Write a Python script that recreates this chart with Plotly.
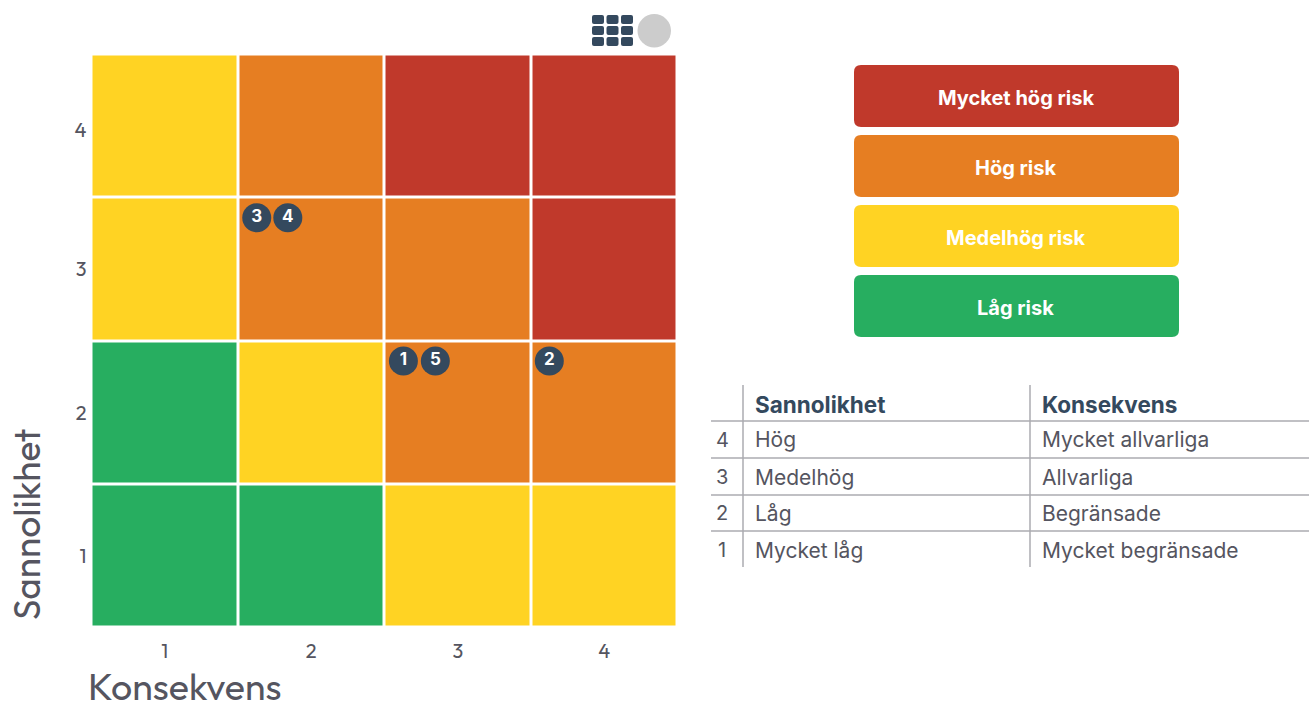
import plotly.graph_objects as go

W, H = 1309, 701

# --- data ---
consequence = [1, 2, 3, 4]
likelihood = [1, 2, 3, 4]
# the reference draws its top y label slightly below the middle of the row
likelihood_tick_positions = [1, 2, 3, 3.97]
# risk level per cell: 0 low, 1 medium-high, 2 high, 3 very high (rows: likelihood 1..4)
risk_row_1 = [0, 0, 1, 1]
risk_row_2 = [0, 1, 2, 2]
risk_row_3 = [1, 2, 2, 3]
risk_row_4 = [1, 2, 3, 3]
risk_colors = ["#27AE60", "#FFD323", "#E67E22", "#C0392B"]

point_labels = ["3", "4", "1", "5", "2"]
point_x = [1.628, 1.84, 2.629, 2.847, 3.625]
point_y = [3.36, 3.36, 2.36, 2.36, 2.36]

legend_labels = ["Mycket hög risk", "Hög risk", "Medelhög risk", "Låg risk"]
legend_colors = ["#C0392B", "#E67E22", "#FFD323", "#27AE60"]

table_header = ["Sannolikhet", "Konsekvens"]
table_levels = ["4", "3", "2", "1"]
table_likelihood = ["Hög", "Medelhög", "Låg", "Mycket låg"]
table_consequence = ["Mycket allvarliga", "Allvarliga", "Begränsade", "Mycket begränsade"]

AXIS_FONT = "Outfit, Lato, sans-serif"
TEXT_FONT = "Inter, sans-serif"
DARK = "#34495E"
TEXT = "#555560"


def px(x):
    return x / W


def py(y):
    return 1 - y / H


shapes = []
annotations = []


def rounded(x0, y0, x1, y1, r, color):
    c = [(x0 + r, y0), (x1 - r, y0), (x1, y0), (x1, y0 + r), (x1, y1 - r), (x1, y1),
         (x1 - r, y1), (x0 + r, y1), (x0, y1), (x0, y1 - r), (x0, y0 + r), (x0, y0)]
    p = [(px(a), py(b)) for a, b in c]
    path = (f"M{p[0][0]},{p[0][1]} L{p[1][0]},{p[1][1]} Q{p[2][0]},{p[2][1]} {p[3][0]},{p[3][1]} "
            f"L{p[4][0]},{p[4][1]} Q{p[5][0]},{p[5][1]} {p[6][0]},{p[6][1]} "
            f"L{p[7][0]},{p[7][1]} Q{p[8][0]},{p[8][1]} {p[9][0]},{p[9][1]} "
            f"L{p[10][0]},{p[10][1]} Q{p[11][0]},{p[11][1]} {p[0][0]},{p[0][1]} Z")
    shapes.append(dict(type="path", xref="paper", yref="paper", path=path, fillcolor=color,
                       line=dict(width=0)))


def label(x, y, text, size, color, font=TEXT_FONT, anchor="left", **kw):
    annotations.append(dict(xref="paper", yref="paper", x=px(x), y=py(y), text=text, showarrow=False,
                            xanchor=anchor, yanchor="middle", font=dict(size=size, color=color, family=font),
                            **kw))


fig = go.Figure()
n = len(risk_colors) - 1
colorscale = []
for i, c in enumerate(risk_colors):
    colorscale += [[max(0, (i - .5) / n), c], [min(1, (i + .5) / n), c]]
fig.add_trace(go.Heatmap(x=consequence, y=likelihood,
                         z=[risk_row_1, risk_row_2, risk_row_3, risk_row_4],
                         colorscale=colorscale, zmin=0, zmax=n, showscale=False,
                         xgap=3, ygap=3, hoverinfo="skip"))
fig.add_trace(go.Scatter(x=point_x, y=point_y, mode="markers+text", text=[f"<b>{t}</b>" for t in point_labels],
                         textposition="middle center",
                         textfont=dict(color="white", size=17, family=TEXT_FONT),
                         marker=dict(size=29, color=DARK, line=dict(width=0)),
                         hoverinfo="skip", cliponaxis=False, showlegend=False))

# legend buttons
for i, (t, c) in enumerate(zip(legend_labels, legend_colors)):
    y0 = 65 + 70 * i
    rounded(854, y0, 1179, y0 + 62, 7, c)
    label(1015.5, y0 + 33, f"<b>{t}</b>", 20, "white", anchor="center")

# table
for y in [421, 458, 495, 531]:
    shapes.append(dict(type="line", xref="paper", yref="paper", x0=px(711), x1=px(1309), y0=py(y), y1=py(y),
                       line=dict(color="#ABABB0", width=1.5)))
for x in [743, 1030]:
    shapes.append(dict(type="line", xref="paper", yref="paper", x0=px(x), x1=px(x), y0=py(385), y1=py(567),
                       line=dict(color="#ABABB0", width=1.5)))
label(753, 404, f"<b>{table_header[0]}</b>", 22.5, DARK)
label(1040, 404, f"<b>{table_header[1]}</b>", 22.5, DARK)
for i, yy in enumerate([440, 477, 513, 550]):
    label(722, yy, table_levels[i], 20, TEXT, anchor="center")
    label(753, yy, table_likelihood[i], 21, TEXT)
    label(1040, yy, table_consequence[i], 21, TEXT)

# toolbar icon
for r in range(3):
    for c in range(3):
        rounded(592 + 14.5 * c, 15 + 11 * r, 604 + 14.5 * c, 24 + 11 * r, 2, DARK)
shapes.append(dict(type="circle", xref="paper", yref="paper", x0=px(637.5), x1=px(671), y0=py(47.5), y1=py(14),
                   fillcolor="#CCCCCC", line=dict(width=0)))

# axis titles
label(86, 686, "Konsekvens", 37.5, TEXT, font=AXIS_FONT)
label(26, 525, "Sannolikhet", 37, TEXT, font=AXIS_FONT, anchor="center", textangle=-90)

fig.update_layout(
    width=W, height=H, margin=dict(l=0, r=0, t=0, b=0), paper_bgcolor="white", plot_bgcolor="white",
    shapes=shapes, annotations=annotations, showlegend=False,
    xaxis=dict(domain=[px(91.5), px(677.5)], range=[0.5, 4.5], tickvals=consequence, showgrid=False, zeroline=False,
               showline=False, ticks="outside", ticklen=5, tickcolor="rgba(0,0,0,0)",
               tickfont=dict(size=20, color=TEXT, family=AXIS_FONT)),
    yaxis=dict(domain=[py(627.5), py(54.5)], range=[0.5, 4.5], tickvals=likelihood_tick_positions,
               ticktext=[str(v) for v in likelihood], showgrid=False, zeroline=False,
               showline=False, ticks="", ticklabelstandoff=4, tickfont=dict(size=20, color=TEXT, family=AXIS_FONT)),
)
fig.write_html("out.html", config=dict(displayModeBar=False),
               post_script="document.body.style.margin='0';")
